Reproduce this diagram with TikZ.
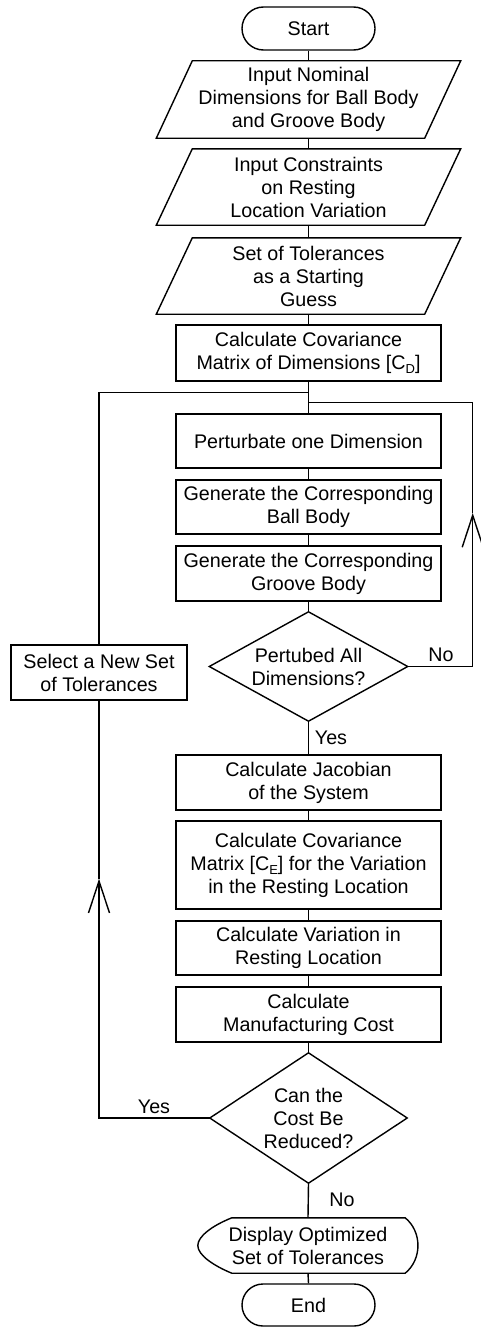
\documentclass[tikz,border=0pt]{standalone}
\usepackage{fontspec}
\setmainfont{Liberation Sans}
\usetikzlibrary{shapes.misc,calc,arrows.meta}
\newcommand{\lowsub}[1]{\raisebox{-4.5pt}{\fontsize{13}{13}\selectfont #1}}
\begin{document}
\begin{tikzpicture}[x=1pt,y=-1pt,
  every node/.style={font=\fontsize{19.7}{23}\selectfont, align=center, inner sep=0pt},
  ln/.style={line width=1.4pt},
  proc/.style={draw, ln, rectangle, minimum width=265pt},
  term/.style={draw, ln, rounded rectangle, minimum width=133pt, minimum height=43pt},
  ghost/.style={rectangle},
  barb/.style={-{Straight Barb[length=32pt,width=21pt]}}
]
\useasboundingbox (0,0) rectangle (481,1327);

\node[term] (start) at (308.5,28.5) {Start};
\node[ghost, minimum width=268pt, minimum height=77pt] (p1) at (308.5,99.5) {Input Nominal\\Dimensions for Ball Body\\and Groove Body};
\node[ghost, minimum width=268pt, minimum height=76pt] (p2) at (308.5,187) {Input Constraints\\on Resting\\Location Variation};
\node[ghost, minimum width=268pt, minimum height=76pt] (p3) at (308.5,276) {Set of Tolerances\\as a Starting\\Guess};
\foreach \n in {p1,p2,p3}
  \draw[ln] ($(\n.south west)+(-18,0)$) -- ($(\n.north west)+(18,0)$) -- ($(\n.north east)+(18,0)$) -- ($(\n.south east)+(-18,0)$) -- cycle;

\node[proc, minimum height=56pt] (cd) at (308.5,353) {Calculate Covariance\\Matrix of Dimensions [C\lowsub{D}]};
\node[proc, minimum height=54pt] (pert) at (308.5,441) {Perturbate one Dimension};
\node[proc, minimum height=54pt] (ball) at (308.5,507) {Generate the Corresponding\\Ball Body};
\node[proc, minimum height=55pt] (groove) at (308.5,573.5) {Generate the Corresponding\\Groove Body};
\node[ghost, minimum width=198pt, minimum height=109pt] (d1) at (308.5,666.5) {Pertubed All\\Dimensions?};
\draw[ln] (d1.north) -- (d1.east) -- (d1.south) -- (d1.west) -- cycle;
\node[proc, minimum height=55pt] (jac) at (308.5,782.5) {Calculate Jacobian\\of the System};
\node[proc, minimum height=88pt] (ce) at (308.5,865) {Calculate Covariance\\Matrix [C\lowsub{E}] for the Variation\\in the Resting Location};
\node[proc, minimum height=54pt] (var) at (308.5,948) {Calculate Variation in\\Resting Location};
\node[proc, minimum height=55pt] (cost) at (308.5,1014.5) {Calculate\\Manufacturing Cost};
\node[ghost, minimum width=197pt, minimum height=130pt] (d2) at (308.5,1118) {Can the\\Cost Be\\Reduced?};
\draw[ln] (d2.north) -- (d2.east) -- (d2.south) -- (d2.west) -- cycle;
\node[ghost, minimum width=220pt, minimum height=55pt] (disp) at (308,1245.5) {Display Optimized\\Set of Tolerances};
\draw[ln] ($(disp.north west)+(34,0)$) -- ($(disp.north east)+(-13,0)$)
  .. controls ($(disp.north east)+(4,14)$) and ($(disp.south east)+(4,-14)$) .. ($(disp.south east)+(-13,0)$)
  -- ($(disp.south west)+(34,0)$)
  .. controls ($(disp.south west)+(17,-7)$) and ($(disp.west)+(0,10)$) .. (disp.west)
  .. controls ($(disp.west)+(0,-9)$) and ($(disp.north west)+(14,8)$) .. cycle;
\node[term, minimum height=42pt] (end) at (308.5,1305) {End};

\node[draw, ln, minimum width=176pt, minimum height=55pt] (sel) at (99,672.5) {Select a New Set\\of Tolerances};

\draw[ln] (start.south) -- (p1.north);
\draw[ln] (p1.south) -- (p2.north);
\draw[ln] (p2.south) -- (p3.north);
\draw[ln] (p3.south) -- (cd.north);
\draw[ln] (cd.south) -- (pert.north);
\draw[ln] (pert.south) -- (ball.north);
\draw[ln] (ball.south) -- (groove.north);
\draw[ln] (groove.south) -- (d1.north);
\draw[ln] (d1.south) -- (jac.north);
\draw[ln] (jac.south) -- (ce.north);
\draw[ln] (ce.south) -- (var.north);
\draw[ln] (var.south) -- (cost.north);
\draw[ln] (cost.south) -- (d2.north);
\draw[ln] (d2.south) -- (disp.north);
\draw[ln] (disp.south) -- (end.north);

\coordinate (j1) at ($(cd.south)+(0,11)$);
\coordinate (j2) at ($(cd.south)+(0,21)$);
\draw[ln] (j1) -| (sel.north);

\coordinate (lt) at ($(sel.south)+(0,178)$);
\draw[ln, barb] (d2.west) -| (lt);
\draw[ln] (lt) -- (sel.south);

\coordinate (rc) at ($(d1.east)+(65,0)$);
\coordinate (rt) at ($(rc)+(0,-153.5)$);
\draw[ln, barb] (d1.east) -- (rc) -- (rt);
\draw[ln] (rt) |- (j2);

\node (no1) at (441,655) {No};
\node (yes1) at (331,738) {Yes};
\node (yes2) at (154,1107) {Yes};
\node (no2) at (342,1200) {No};
\end{tikzpicture}
\end{document}
